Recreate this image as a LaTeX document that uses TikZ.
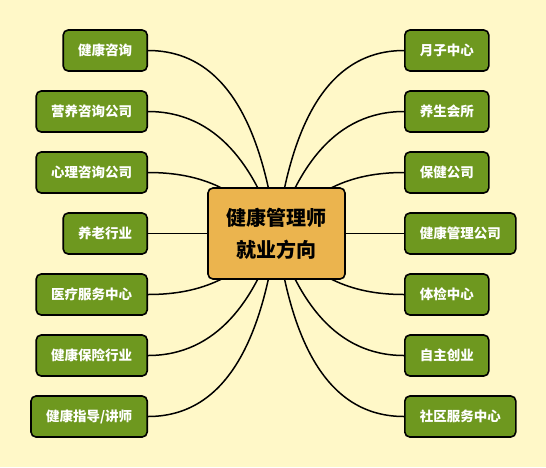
\documentclass[tikz,border=0pt]{standalone}
\usepackage{fontspec}
\newfontfamily\cjk{Noto Sans CJK SC}
\usepackage{tikz}
\usetikzlibrary{positioning, backgrounds}
\definecolor{paper}{RGB}{255,248,200}
\definecolor{leaf}{RGB}{110,152,31}
\definecolor{hubfill}{RGB}{235,180,78}
\tikzstyle{job}=[rectangle, rounded corners=5pt, draw=black, line width=1.6pt,
                 fill=leaf, text=white, minimum height=41pt, inner xsep=15pt,
                 font=\cjk\bfseries\fontsize{13.5}{16}\selectfont]
\tikzstyle{hub}=[rectangle, rounded corners=5pt, draw=black, line width=1.6pt,
                 fill=hubfill, minimum width=137pt, minimum height=91pt,
                 align=center, font=\cjk\bfseries\fontsize{20}{32}\selectfont]
\tikzstyle{link}=[line width=1.5pt, color=black]
\begin{document}
\begin{tikzpicture}[x=1pt, y=-1pt]
  \useasboundingbox (0,0) rectangle (546,467);

  % Centre
  \node[hub] (hub) at (276.5,233.5) {健康管理师\\就业方向};

  % Left column
  \node[job, anchor=east] (zixun)   at (148,50.5)  {健康咨询};
  \node[job, anchor=east] (yingyang) at (148,111.5) {营养咨询公司};
  \node[job, anchor=east] (xinli)   at (148,172.5) {心理咨询公司};
  \node[job, anchor=east] (yanglao) at (148,233.5) {养老行业};
  \node[job, anchor=east] (yiliao)  at (148,294.5) {医疗服务中心};
  \node[job, anchor=east] (baoxian) at (148,355.5) {健康保险行业};
  \node[job, anchor=east] (jiangshi) at (148,416.5) {健康指导/讲师};

  % Right column
  \node[job, anchor=west] (yuezi)   at (404,50.5)  {月子中心};
  \node[job, anchor=west] (yangsheng) at (404,111.5) {养生会所};
  \node[job, anchor=west] (baojian) at (404,172.5) {保健公司};
  \node[job, anchor=west] (guanli)  at (404,233.5) {健康管理公司};
  \node[job, anchor=west] (tijian)  at (404,294.5) {体检中心};
  \node[job, anchor=west] (chuangye) at (404,355.5) {自主创业};
  \node[job, anchor=west] (shequ)   at (404,416.5) {社区服务中心};

  % Background and links
  \begin{scope}[on background layer]
    \fill[paper] (0,0) rectangle (546,467);
    \draw[link] (hub.center) to[out=98,  in=0] (zixun.east);
    \draw[link] (hub.center) to[out=108, in=0] (yingyang.east);
    \draw[link] (hub.center) to[out=130, in=0] (xinli.east);
    \draw[link] (hub.center) -- (yanglao.east);
    \draw[link] (hub.center) to[out=230, in=0] (yiliao.east);
    \draw[link] (hub.center) to[out=252, in=0] (baoxian.east);
    \draw[link] (hub.center) to[out=262, in=0] (jiangshi.east);
    \draw[link] (hub.center) to[out=82,  in=180] (yuezi.west);
    \draw[link] (hub.center) to[out=72,  in=180] (yangsheng.west);
    \draw[link] (hub.center) to[out=50,  in=180] (baojian.west);
    \draw[link] (hub.center) -- (guanli.west);
    \draw[link] (hub.center) to[out=-50, in=180] (tijian.west);
    \draw[link] (hub.center) to[out=-72, in=180] (chuangye.west);
    \draw[link] (hub.center) to[out=-82, in=180] (shequ.west);
  \end{scope}
\end{tikzpicture}
\end{document}
